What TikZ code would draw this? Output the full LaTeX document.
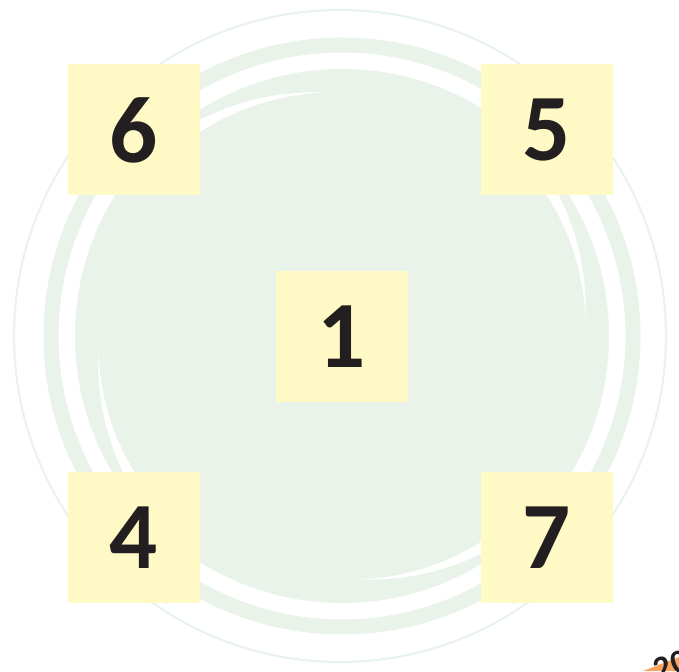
\documentclass[tikz,border=0pt]{standalone}
\usepackage{fontspec}
\setmainfont{Carlito}
\definecolor{swirl}{HTML}{E9F3EA}
\definecolor{ringfaint}{HTML}{E8F3EA}
\definecolor{boxfill}{HTML}{FFF9C5}
\definecolor{digit}{HTML}{231F20}
\definecolor{tag}{HTML}{F6A45E}

\begin{document}
\begin{tikzpicture}[x=1pt, y=1pt,
    numbox/.style={fill=boxfill, minimum width=132pt, minimum height=131pt, inner sep=0pt,
        text=digit, font=\fontsize{95}{95}\selectfont\bfseries}]
    % Define the points of the swirl
    \coordinate (O) at (342,335);
    \coordinate (R) at (340,335);
    \useasboundingbox[fill=white] (0,0) rectangle (679,671);

    % Draw the rings and the disc
    \draw[ringfaint, line width=2pt] (R) circle (326);
    \draw[swirl, line width=15pt] (O) circle (291);
    \fill[swirl] (O) circle (267);

    % Draw the swooshes
    \foreach \a in {4,94,184,274}
        \fill[white, shift={(O)}] plot[domain=0:50, samples=30] (\a+\x:{244+0.15*\x})
            -- plot[domain=50:0, samples=30] (\a+\x:{244+0.5*\x}) -- cycle;

    % Place the number boxes
    \node[numbox] (box6) at (133.5,541) {6};
    \node[numbox] (box5) at (547,541) {5};
    \node[numbox] (box1) at (342,334.5) {1};
    \node[numbox] (box4) at (133.5,133.5) {4};
    \node[numbox] (box7) at (547,133.5) {7};

    % Draw the corner tag
    \fill[tag] (643,0) -- (679,14) -- (679,0) -- cycle;
    \node[rotate=20, anchor=north west, inner sep=0pt, text=digit,
        font=\fontsize{34}{34}\selectfont\bfseries] (tag) at (651,11) {20};

\end{tikzpicture}
\end{document}
